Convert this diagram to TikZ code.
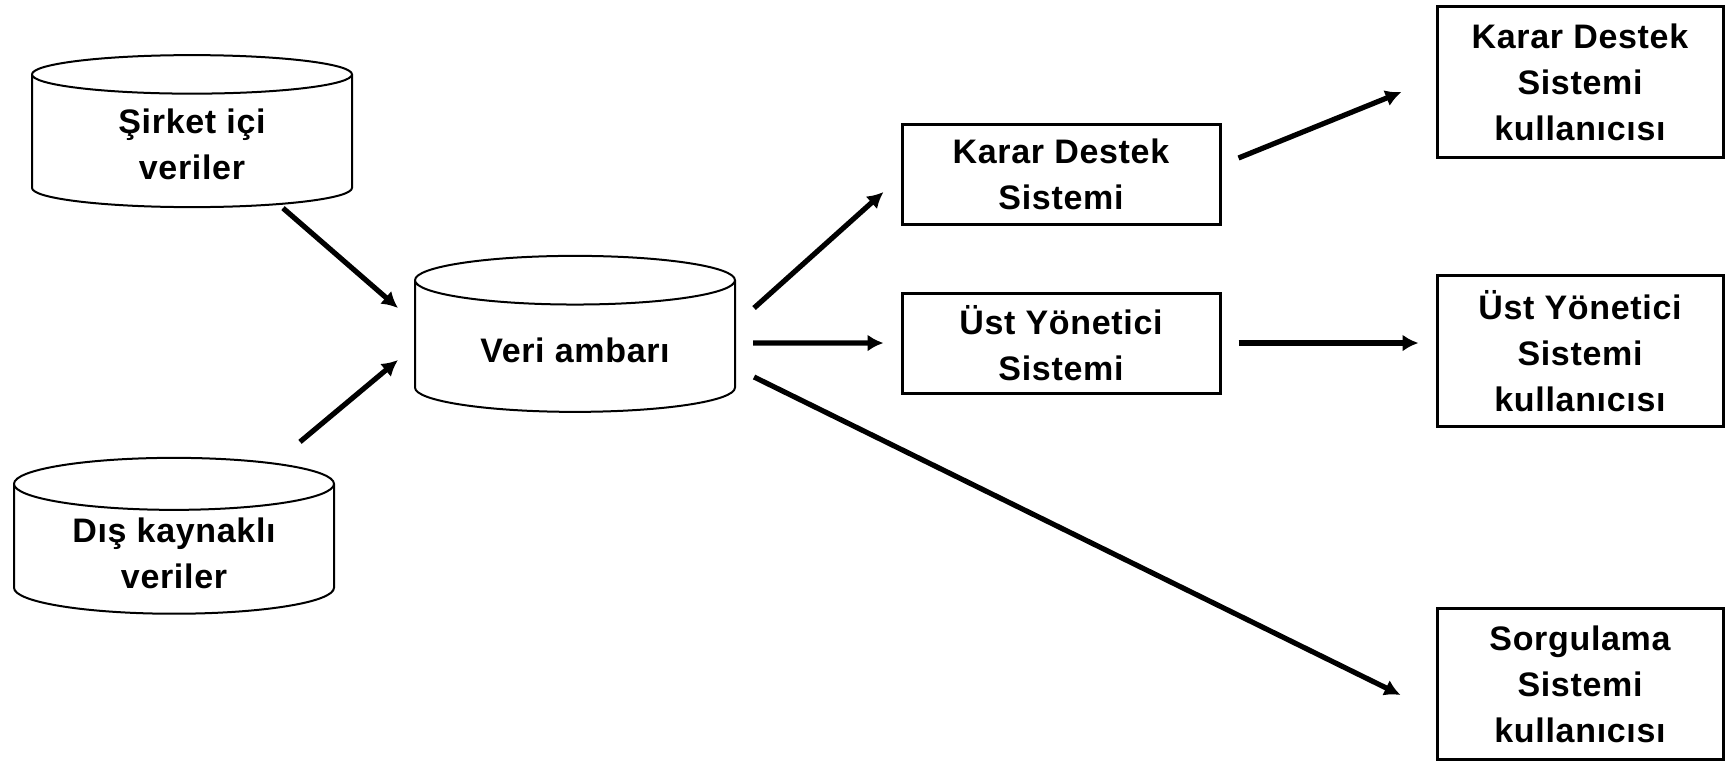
\documentclass[tikz,border=0pt]{standalone}
\usepackage{fontspec}
\setmainfont{Liberation Sans}[LetterSpace=2.0]
\usepackage{tikz}
\usetikzlibrary{shapes.geometric,arrows.meta}

\begin{document}
\begin{tikzpicture}[x=0.5pt,y=-0.5pt,
		yazi/.style={align=center,font=\fontsize{17}{23}\selectfont\bfseries},
		veri/.style={yazi,draw,line width=1pt,cylinder,shape border rotate=90,aspect=0.24,minimum width=160pt,minimum height=76pt},
		kutu/.style={yazi,draw,line width=1.5pt,rectangle,minimum width=159pt,minimum height=50pt},
		kullanici/.style={yazi,draw,line width=1.5pt,rectangle,minimum width=143pt,minimum height=75.5pt},
		ok/.style={line width=2.6pt,-{Latex[length=8pt,width=8.5pt]}}]
			\useasboundingbox (0,0) rectangle (1730,762);
			\coordinate (p_sirket) at (192,144);
			\coordinate (p_dis) at (174,553);
			\coordinate (p_ambar) at (575,350);
			\coordinate (p_kds) at (1061,174);
			\coordinate (p_uys) at (1061,343);
			\coordinate (p_kdsk) at (1580,82);
			\coordinate (p_uysk) at (1580,351);
			\coordinate (p_sorgk) at (1580,684);
			\node[veri] (c_sirket) at (p_sirket) {Şirket içi\\veriler};
			\node[veri] (c_dis) at (p_dis) {Dış kaynaklı\\veriler};
			\node[veri,minimum height=78pt] (c_ambar) at (p_ambar) {Veri ambarı};
			\node[kutu] (b_kds) at (p_kds) {Karar Destek\\Sistemi};
			\node[kutu] (b_uys) at (p_uys) {Üst Yönetici\\Sistemi};
			\node[kullanici] (u_kds) at (p_kdsk) {Karar Destek\\Sistemi\\kullanıcısı};
			\node[kullanici] (u_uys) at (p_uysk) {Üst Yönetici\\Sistemi\\kullanıcısı};
			\node[kullanici] (u_sorg) at (p_sorgk) {Sorgulama\\Sistemi\\kullanıcısı};
			\draw[ok] ([shift={(91,0)}]c_sirket.south) -- ([shift={(-16,-42)}]c_ambar.west);
			\draw[ok] ([shift={(126,-15)}]c_dis.north) -- ([shift={(-16,10)}]c_ambar.west);
			\draw[ok] ([shift={(18,-42)}]c_ambar.east) -- ([shift={(-17,18)}]b_kds.west);
			\draw[ok] ([shift={(17,-7)}]c_ambar.east) -- ([shift={(-17,0)}]b_uys.west);
			\draw[ok] ([shift={(18,27)}]c_ambar.east) -- ([shift={(-35,11)}]u_sorg.west);
			\draw[ok] ([shift={(17,-16)}]b_kds.east) -- ([shift={(-34,10)}]u_kds.west);
			\draw[ok] ([shift={(17,0)}]b_uys.east) -- ([shift={(-17,-8)}]u_uys.west);
\end{tikzpicture}
\end{document}
